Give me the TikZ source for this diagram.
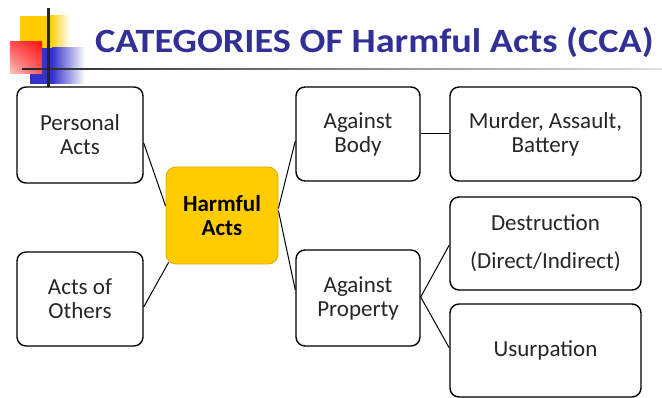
\documentclass[tikz,border=0pt]{standalone}
\usepackage{fontspec}
\setmainfont{Carlito}
\newfontfamily\titlefont[FakeStretch=1.125]{Carlito}
\usetikzlibrary{calc,shadings}
\definecolor{titleblue}{RGB}{48,48,150}
\definecolor{harmyellow}{RGB}{255,204,0}
\definecolor{harmedge}{RGB}{220,170,0}
\definecolor{decoyellow}{RGB}{255,204,0}
\definecolor{decoblue}{RGB}{51,51,204}
\definecolor{decored}{RGB}{255,20,20}
\tikzset{
  catbox/.style={draw=black, line width=1.4pt, rounded corners=9pt, fill=white,
    align=center, inner sep=2pt, font=\fontsize{23}{24}\selectfont, text=black!85},
  hubbox/.style={draw=harmedge, line width=0.8pt, rounded corners=10pt, fill=harmyellow,
    align=center, inner sep=2pt, font=\fontsize{23}{24}\selectfont\bfseries, text=black},
  link/.style={draw=black, line width=1pt}
}
\begin{document}
\begin{tikzpicture}[x=1pt,y=-1pt]
\useasboundingbox (0,0) rectangle (662,398);
% decoration
\fill[decoyellow] (20,16) rectangle (50,48);
\shade[left color=decoyellow, right color=white] (50,16) rectangle (70,48);
\fill[decoblue] (30,48) rectangle (52,84);
\shade[left color=decoblue, right color=white] (52,48) rectangle (85,84);
\shade[upper right=decored, upper left=decored!75, lower right=decored!70, lower left=decored!25] (10,42) rectangle (42,74);
\shade[left color=black!85, right color=black!12] (22,68.3) rectangle (662,69.8);
\fill[black!85] (46.5,8) rectangle (49.5,87);
% title
\node[anchor=base west, inner sep=0pt, text=titleblue, font=\titlefont\bfseries\fontsize{34}{36}\selectfont] (title) at (95,53) {CATEGORIES OF Harmful Acts (CCA)};
% boxes
\node[catbox, minimum width=126pt, minimum height=96pt] (pa) at (80,135) {Personal\\Acts};
\node[catbox, minimum width=126pt, minimum height=94pt] (oa) at (80,299) {Acts of\\Others};
\node[hubbox, minimum width=112pt, minimum height=97pt] (ha) at (222,215.5) {Harmful\\Acts};
\node[catbox, minimum width=124pt, minimum height=94pt] (ab) at (358,134) {Against\\Body};
\node[catbox, minimum width=124pt, minimum height=96pt] (ap) at (358,298) {Against\\Property};
\node[catbox, minimum width=191pt, minimum height=94pt] (mu) at (545.5,134) {Murder, Assault,\\Battery};
\node[catbox, minimum width=191pt, minimum height=93pt] (de) at (545.5,243.5) {Destruction\\[14pt](Direct/Indirect)};
\node[catbox, minimum width=191pt, minimum height=93pt] (us) at (545.5,350.5) {Usurpation};
% connectors
\draw[link] ($(pa.east)+(0,-8pt)$) -- ($(ha.west)+(0,9.5pt)$);
\draw[link] ($(oa.east)+(0,-8pt)$) -- ($(ha.south west)+(3pt,2pt)$);
\draw[link] ($(ha.east)+(0,7pt)$) -- ($(ab.west)+(0,-7pt)$);
\draw[link] ($(ha.east)+(0,5pt)$) -- ($(ap.west)+(0,8pt)$);
\draw[link] (ab.east) -- (mu.west);
\draw[link] ($(ap.east)+(0,1pt)$) -- ($(de.west)+(0,-1.5pt)$);
\draw[link] ($(ap.east)+(0,1pt)$) -- ($(us.west)+(0,2.5pt)$);
\end{tikzpicture}
\end{document}
